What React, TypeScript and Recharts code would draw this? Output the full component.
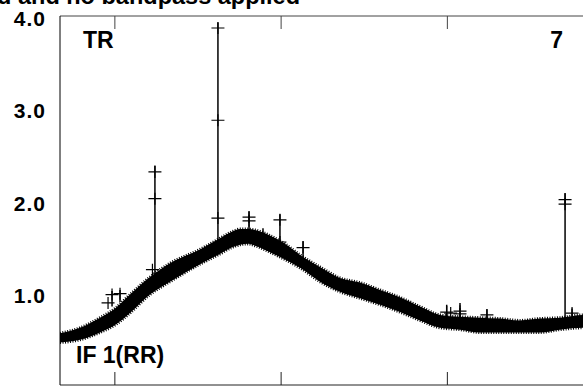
import React from "react";
import { ComposedChart, Area, Line, Scatter, XAxis, YAxis } from "recharts";

// band of the spectrum (lower / upper edge of the noisy trace)
const BAND_X = [67, 79, 91.1, 100.1, 109.1, 121.1, 133.2, 151.2, 163.2, 170.3, 175.3, 180.3, 184.3, 193.3, 202.3, 211.4, 223.4, 235.4, 247.5, 259.5, 271.5, 283.5, 295.6, 307.6, 319.6, 331.7, 343.7, 355.7, 367.7, 381.6, 387];
const BAND_LO = [0.46, 0.49, 0.57, 0.65, 0.78, 0.98, 1.12, 1.31, 1.42, 1.49, 1.52, 1.53, 1.51, 1.44, 1.36, 1.27, 1.12, 1.01, 0.94, 0.87, 0.79, 0.7, 0.62, 0.6, 0.57, 0.57, 0.57, 0.57, 0.6, 0.62, 0.62];
const BAND_HI = [0.56, 0.62, 0.73, 0.83, 0.98, 1.17, 1.32, 1.47, 1.59, 1.66, 1.69, 1.69, 1.68, 1.62, 1.53, 1.41, 1.28, 1.16, 1.11, 1.03, 0.95, 0.85, 0.76, 0.74, 0.73, 0.72, 0.7, 0.72, 0.73, 0.76, 0.76];

// spikes (interference)
const SPIKE_X = [98.3, 103.1, 124.1, 162.0, 180.7, 189.1, 199.3, 213.2, 299.6, 307.6, 323.8, 370.8, 375.0];
const SPIKE_BASE = [0.85, 0.9, 1.15, 1.5, 1.62, 1.6, 1.5, 1.3, 0.66, 0.66, 0.63, 0.65, 0.68];
const SPIKE_TOP = [1.02, 1.03, 2.38, 3.93, 1.88, 1.7, 1.85, 1.56, 0.87, 0.89, 0.82, 2.08, 0.83];

// flagged points drawn as "+"
const MARK_X = [95.9, 98.3, 103.1, 122.6, 124.1, 124.1, 162.0, 162.0, 162.0, 180.7, 180.7, 199.3, 199.3, 213.2, 299.6, 302, 307.6, 307.6, 323.8, 370.8, 370.8, 375.0];
const MARK_Y = [0.89, 0.98, 0.99, 1.25, 2.31, 2.02, 3.87, 2.87, 1.81, 1.82, 1.78, 1.79, 1.55, 1.49, 0.79, 0.78, 0.8, 0.77, 0.76, 2.01, 1.96, 0.78];

const X_TICKS = [100, 200, 300];
const Y_LABEL_TICKS = [0, 1, 2, 3, 4];
const Y_MINOR_TICKS = [0, 0.5, 1, 1.5, 2, 2.5, 3, 3.5, 4];

const FONT = "'Liberation Sans', Arial, Helvetica, sans-serif";

const band = BAND_X.map((x, i) => ({ x, range: [BAND_LO[i], BAND_HI[i]] }));
const spikes = SPIKE_X.map((x, i) => [
  { x, y: SPIKE_BASE[i] },
  { x, y: SPIKE_TOP[i] },
]);
const marks = MARK_X.map((x, i) => ({ x, y: MARK_Y[i] }));

const YLabel = (props: any) => {
  const { x, y, payload } = props;
  return (
    <text x={x} y={y + 10} textAnchor="end" fontFamily={FONT} fontWeight="bold" fontSize={21}
      letterSpacing={1} fill="#000">
      {Number(payload.value).toFixed(1)}
    </text>
  );
};

const Plus = (props: any) => {
  const { cx, cy } = props;
  return <path d={`M${cx - 6.5},${cy}h13M${cx},${cy - 6}v12`} stroke="#000" strokeWidth={1.2} fill="none" />;
};

const empty = () => "";

export default function App() {
  return (
    <div style={{ position: "absolute", left: 0, top: 0, width: 583, height: 391, overflow: "hidden", background: "#fff" }}>
      <ComposedChart width={600} height={391} data={band} margin={{ top: 16, right: 8, bottom: 6, left: 0 }}>
        <XAxis xAxisId="b" dataKey="x" type="number" domain={[67, 387]} allowDataOverflow ticks={X_TICKS}
          orientation="bottom" mirror tickSize={13} tickFormatter={empty} stroke="#222" />
        <XAxis xAxisId="t" dataKey="x" type="number" domain={[67, 387]} allowDataOverflow ticks={X_TICKS}
          orientation="top" mirror tickSize={13} tickFormatter={empty} stroke="#444" />
        <YAxis yAxisId="l" type="number" domain={[0, 4]} ticks={Y_LABEL_TICKS} width={60}
          axisLine={false} tickLine={false} tickSize={6} tickMargin={8} tick={<YLabel />} />
        <YAxis yAxisId="lm" type="number" domain={[0, 4]} ticks={Y_MINOR_TICKS} orientation="left" mirror
          tickSize={14} tickFormatter={empty} stroke="#000" />
        <YAxis yAxisId="rm" type="number" domain={[0, 4]} ticks={Y_MINOR_TICKS} orientation="right" mirror
          tickSize={14} tickFormatter={empty} stroke="#000" />
        <Area xAxisId="b" yAxisId="l" type="monotone" dataKey="range" stroke="#000" strokeWidth={3}
          strokeDasharray="1 1.5" fill="#000" fillOpacity={1} dot={false} activeDot={false} isAnimationActive={false} />
        {spikes.map((s, i) => (
          <Line key={i} xAxisId="b" yAxisId="l" data={s} dataKey="y" type="linear" stroke="#000"
            strokeWidth={1.5} dot={false} activeDot={false} isAnimationActive={false} />
        ))}
        <Scatter xAxisId="b" yAxisId="l" data={marks} dataKey="y" shape={<Plus />} isAnimationActive={false} />
      </ComposedChart>
      <svg width={583} height={391} style={{ position: "absolute", left: 0, top: 0, pointerEvents: "none" }}>
        <g fontFamily={FONT} fontWeight="bold" fill="#000">
          <text x={300} y={4} fontSize={23.5} textAnchor="end">d and no bandpass applied</text>
          <text x={83} y={48} fontSize={23}>TR</text>
          <text x={563} y={48} fontSize={23} textAnchor="end">7</text>
          <text x={76} y={363} fontSize={23}>IF 1(RR)</text>
        </g>
      </svg>
    </div>
  );
}
